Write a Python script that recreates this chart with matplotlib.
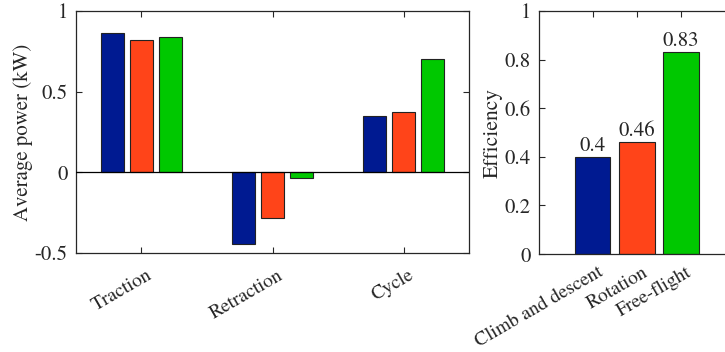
import matplotlib.pyplot as plt
import matplotlib.transforms as mtransforms
import numpy as np

# Average power per phase for three configurations
phases = ['Traction', 'Retraction', 'Cycle']
power_a = [0.866, -0.444, 0.348]
power_b = [0.817, -0.285, 0.375]
power_c = [0.839, -0.033, 0.701]

# Efficiency per flight mode
modes = ['Climb and descent', 'Rotation', 'Free-flight']
efficiency = [0.40, 0.46, 0.83]
eff_labels = ['0.4', '0.46', '0.83']

colors = ['#001A91', '#FF4419', '#00C800']
dark = '#262626'

plt.rcParams['font.family'] = ['TeX Gyre Termes', 'STIXGeneral', 'DejaVu Serif']
plt.rcParams['font.size'] = 14
plt.rcParams['text.color'] = dark
plt.rcParams['axes.labelcolor'] = dark
plt.rcParams['xtick.color'] = dark
plt.rcParams['ytick.color'] = dark

fig = plt.figure(figsize=(7.25, 3.52), dpi=100)
ax1 = fig.add_axes([0.1048, 0.281, 0.5422, 0.688])
ax2 = fig.add_axes([0.7434, 0.278, 0.2703, 0.691])


def style_axes(ax, xpad):
    for s in ax.spines.values():
        s.set_color(dark)
        s.set_linewidth(0.9)
    ax.tick_params(direction='in', length=4, width=0.8, top=True, right=True,
                   labelsize=15, pad=6)
    ax.tick_params(axis='x', labelsize=14, pad=xpad)
    # nudge the slanted category labels a little to the right
    shift = mtransforms.ScaledTranslation(5 / 100, -1 / 100, fig.dpi_scale_trans)
    for lab in ax.get_xticklabels():
        lab.set_transform(lab.get_transform() + shift)


# grouped bars
x = np.arange(1, len(phases) + 1)
offset = 0.22
width = 0.178
for i, vals in enumerate([power_a, power_b, power_c]):
    ax1.bar(x + (i - 1) * offset, vals, width=width, color=colors[i],
            edgecolor='#222222', linewidth=0.8, zorder=2)
ax1.axhline(0, color='black', linewidth=0.9, zorder=3)
ax1.set_xlim(0.5, 3.5)
ax1.set_ylim(-0.5, 1)
ax1.set_yticks([-0.5, 0, 0.5, 1])
ax1.set_yticklabels(['-0.5', '0', '0.5', '1'])
ax1.set_xticks(x)
ax1.set_xticklabels(phases, rotation=30, ha='right', rotation_mode='anchor')
ax1.set_ylabel('Average power (kW)', fontsize=15, labelpad=1)
style_axes(ax1, 9)

# efficiency bars with value labels
x2 = np.arange(1, len(modes) + 1)
bars = ax2.bar(x2, efficiency, width=0.8, color=colors,
               edgecolor='#222222', linewidth=0.8, zorder=2)
for b, v, lab in zip(bars, efficiency, eff_labels):
    ax2.text(b.get_x() + b.get_width() / 2, v + 0.005, lab,
             ha='center', va='bottom', fontsize=15)
ax2.set_xlim(-0.22, 4.22)
ax2.set_ylim(0, 1)
ax2.set_yticks([0, 0.2, 0.4, 0.6, 0.8, 1])
ax2.set_yticklabels(['0', '0.2', '0.4', '0.6', '0.8', '1'])
ax2.set_xticks(x2)
ax2.set_xticklabels(modes, rotation=30, ha='right', rotation_mode='anchor')
ax2.set_ylabel('Efficiency', fontsize=15.5, labelpad=1.5)
style_axes(ax2, 6)

fig.savefig('out.png', dpi=100)
